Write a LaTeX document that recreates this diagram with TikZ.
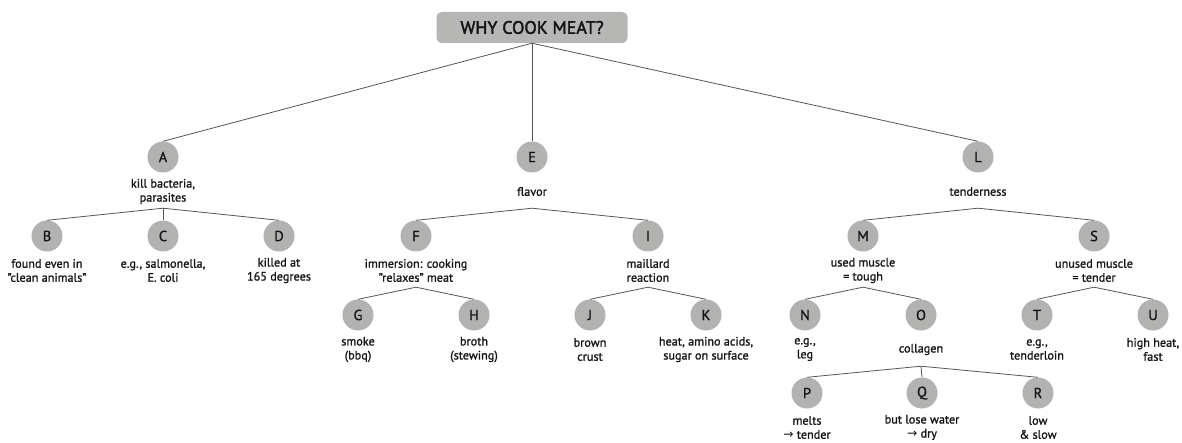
\documentclass[tikz,border=0pt]{standalone}
\usepackage{fontspec}
\setmainfont{PT Sans}[FakeBold=1.2]
\newfontfamily\rootfont{PT Sans}[FakeBold=2.2]
\newfontfamily\arrowfont{DejaVu Sans}
\newcommand{\rarr}{{\arrowfont →}}
\definecolor{nodegray}{RGB}{178,178,176}
\definecolor{boxgray}{RGB}{182,182,180}
\definecolor{linec}{RGB}{85,85,85}
\definecolor{textc}{RGB}{20,20,20}
\newcommand{\treenode}[4]{%
  \node[circ] (#1) at (#2,#3) {#1};
  \node[lbl] (l#1) at (#2,#3+34.5) {#4};}
\begin{document}
\begin{tikzpicture}[x=1pt,y=-1pt,
  circ/.style={circle, fill=nodegray, minimum size=31pt, inner sep=0pt, text=textc, font=\fontsize{14.5}{16}\selectfont},
  lbl/.style={align=center, minimum height=33pt, inner sep=0pt, text=textc, font=\fontsize{12.2}{14}\selectfont},
  rootbox/.style={rounded corners=5pt, fill=boxgray, minimum width=191pt, minimum height=31pt, inner sep=0pt, text=textc, font=\rootfont\fontsize{18}{20}\selectfont},
  conn/.style={draw=linec, line width=0.8pt}]
\useasboundingbox (0,0) rectangle (1182,443);
\node[rootbox] (root) at (532,27.5) {WHY COOK MEAT?};
\treenode{A}{163}{157}{kill bacteria,\\parasites}
\treenode{E}{532}{157}{flavor}
\treenode{L}{978}{157}{tenderness}
\treenode{B}{47}{236}{found even in\\"clean animals"}
\treenode{C}{163}{236}{e.g., salmonella,\\E. coli}
\treenode{D}{279}{236}{killed at\\165 degrees}
\treenode{F}{416}{236}{immersion: cooking\\"relaxes" meat}
\treenode{I}{648}{236}{maillard\\reaction}
\treenode{M}{863}{236}{used muscle\\= tough}
\treenode{S}{1094}{236}{unused muscle\\= tender}
\treenode{G}{358}{315}{smoke\\(bbq)}
\treenode{H}{474}{315}{broth\\(stewing)}
\treenode{J}{590}{315}{brown\\crust}
\treenode{K}{706}{315}{heat, amino acids,\\sugar on surface}
\treenode{N}{805}{315}{e.g.,\\leg}
\treenode{O}{921}{315}{collagen}
\treenode{T}{1037}{315}{e.g.,\\tenderloin}
\treenode{U}{1153}{315}{high heat,\\fast}
\treenode{P}{807}{393}{melts\\\rarr{} tender}
\treenode{Q}{922}{393}{but lose water\\\rarr{} dry}
\treenode{R}{1038}{393}{low\\\& slow}
\foreach \c in {A,E,L} \draw[conn] (root.south) -- (\c.north);
\foreach \p/\c in {A/B,A/C,A/D,E/F,E/I,L/M,L/S,F/G,F/H,I/J,I/K,M/N,M/O,S/T,S/U,O/P,O/Q,O/R}
  \draw[conn] (l\p.south) -- (\c.north);
\end{tikzpicture}
\end{document}
